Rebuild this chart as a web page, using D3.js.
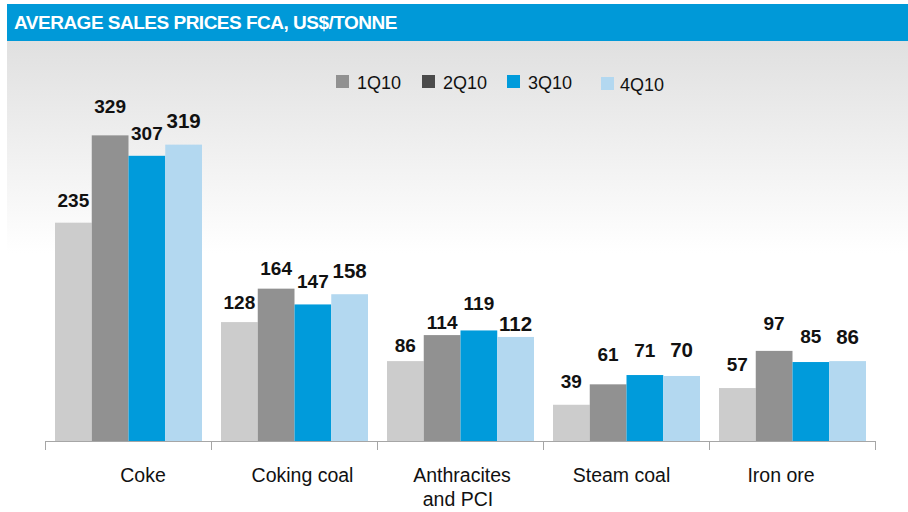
<!DOCTYPE html>
<html>
<head>
<meta charset="utf-8">
<script src="https://cdn.jsdelivr.net/npm/d3@7"></script>
<style>
  html, body { margin: 0; padding: 0; background: #fff; }
  svg { display: block; font-family: Arial, "Liberation Sans", sans-serif; }
</style>
</head>
<body>
<div id="chart"></div>
<script>
// chart data
const categories = ['Coke', 'Coking coal', 'Anthracites\nand PCI', 'Steam coal', 'Iron ore'];
const quarters = ['1Q10', '2Q10', '3Q10', '4Q10'];
const q1 = [235, 128, 86, 39, 57];
const q2 = [329, 164, 114, 61, 97];
const q3 = [307, 147, 119, 71, 85];
const q4 = [319, 158, 112, 70, 86];
const title = 'AVERAGE SALES PRICES FCA, US$/TONNE';

const barColors = ['#cccccc', '#919191', '#009bdb', '#b3d8f0'];
const legendColors = ['#919191', '#4b4b4b', '#009bdb', '#b3d8f0'];

// value labels were placed by hand in the source slide: lift above bar top (px)
const labelLift = [
  [16, 22, 16, 17],
  [13, 14, 16, 16],
  [9, 6, 20, 6],
  [17, 23, 18, 19],
  [17, 21, 19, 17]
];

const config = {
  totalWidth: 908,
  totalHeight: 512,
  axisY: 441,
  left: 45,
  right: 875
};

const series = [q1, q2, q3, q4];
const rows = categories.map((c, i) => ({cat: c, ci: i, values: series.map(s => s[i])}));

const svg = d3.select('#chart').append('svg')
  .attr('width', config.totalWidth)
  .attr('height', config.totalHeight);

// background panel with gradient
const defs = svg.append('defs');
const grad = defs.append('linearGradient')
  .attr('id', 'bg')
  .attr('x1', 0).attr('y1', 0).attr('x2', 0).attr('y2', 1);
grad.append('stop').attr('offset', '0%').attr('stop-color', '#e0e0e0');
grad.append('stop').attr('offset', '45%').attr('stop-color', '#ffffff');
grad.append('stop').attr('offset', '100%').attr('stop-color', '#ffffff');

svg.append('rect')
  .attr('x', 7).attr('y', 41)
  .attr('width', config.totalWidth - 7).attr('height', config.totalHeight - 41)
  .attr('fill', 'url(#bg)');

// header bar
svg.append('rect')
  .attr('x', 7).attr('y', 4)
  .attr('width', config.totalWidth - 7).attr('height', 37)
  .attr('fill', '#0099d8');
svg.append('text')
  .attr('x', 14).attr('y', 29)
  .attr('fill', '#fff')
  .attr('font-size', 19)
  .attr('font-weight', 'bold')
  .attr('letter-spacing', -0.5)
  .text(title);

// scales
const x0 = d3.scaleBand()
  .domain(categories)
  .range([config.left, config.right])
  .paddingInner(0)
  .paddingOuter(0);
const x1 = d3.scaleBand()
  .domain(quarters)
  .range([10, x0.bandwidth() - 9]);
const y = d3.scaleLinear()
  .domain([0, 400])
  .range([config.axisY, config.axisY - 400 * 0.929]);
// category labels sit on a slightly narrower spacing than the bands
const xLabel = d3.scalePoint()
  .domain(categories)
  .range([143, 781]);

// bars
const groups = svg.append('g').selectAll('g')
  .data(rows)
  .enter()
  .append('g')
  .attr('transform', d => `translate(${x0(d.cat)},0)`);

groups.selectAll('rect')
  .data(d => d.values.map((v, i) => ({q: quarters[i], v, i, ci: d.ci})))
  .enter()
  .append('rect')
  .attr('x', d => x1(d.q))
  .attr('y', d => y(d.v))
  .attr('width', x1.bandwidth())
  .attr('height', d => y(0) - y(d.v))
  .attr('fill', d => barColors[d.i]);

groups.selectAll('text')
  .data(d => d.values.map((v, i) => ({q: quarters[i], v, i, ci: d.ci})))
  .enter()
  .append('text')
  .attr('x', d => x1(d.q) + x1.bandwidth() / 2)
  .attr('y', d => y(d.v) - labelLift[d.ci][d.i])
  .attr('text-anchor', 'middle')
  .attr('font-size', d => d.i === 3 ? 20.5 : 19)
  .attr('font-weight', 'bold')
  .attr('fill', '#111')
  .text(d => d.v);

// x axis
const axis = svg.append('g');
axis.append('line')
  .attr('x1', config.left).attr('x2', config.right)
  .attr('y1', config.axisY + 0.5).attr('y2', config.axisY + 0.5)
  .attr('stroke', '#a6a6a6').attr('stroke-width', 1);
const tickX = categories.map(c => x0(c)).concat([config.right]);
axis.selectAll('.tick')
  .data(tickX)
  .enter()
  .append('line')
  .attr('x1', d => Math.round(d) + 0.5).attr('x2', d => Math.round(d) + 0.5)
  .attr('y1', config.axisY).attr('y2', config.axisY + 9)
  .attr('stroke', '#a6a6a6');

const catLabels = axis.selectAll('.cat')
  .data(categories)
  .enter()
  .append('text')
  .attr('y', 482)
  .attr('text-anchor', 'middle')
  .attr('font-size', 19.5)
  .attr('fill', '#111');
catLabels.each(function (d) {
  const lines = d.split('\n');
  const t = d3.select(this);
  lines.forEach((l, i) => {
    t.append('tspan')
      .attr('x', xLabel(d) - (i === 1 ? 4 : 0))
      .attr('dy', i === 0 ? 0 : 24)
      .text(l);
  });
});

// legend
const legendX = [336, 422, 507, 601];
const legend = svg.append('g').selectAll('g')
  .data(quarters)
  .enter()
  .append('g')
  .attr('transform', (d, i) => `translate(${legendX[i]},${i === 3 ? 77 : 75})`);
legend.append('rect')
  .attr('width', 13).attr('height', 13)
  .attr('fill', (d, i) => legendColors[i]);
legend.append('text')
  .attr('x', d => d === '4Q10' ? 19 : 21).attr('y', 13.5)
  .attr('font-size', 18)
  .attr('fill', '#111')
  .text(d => d);
</script>
</body>
</html>
